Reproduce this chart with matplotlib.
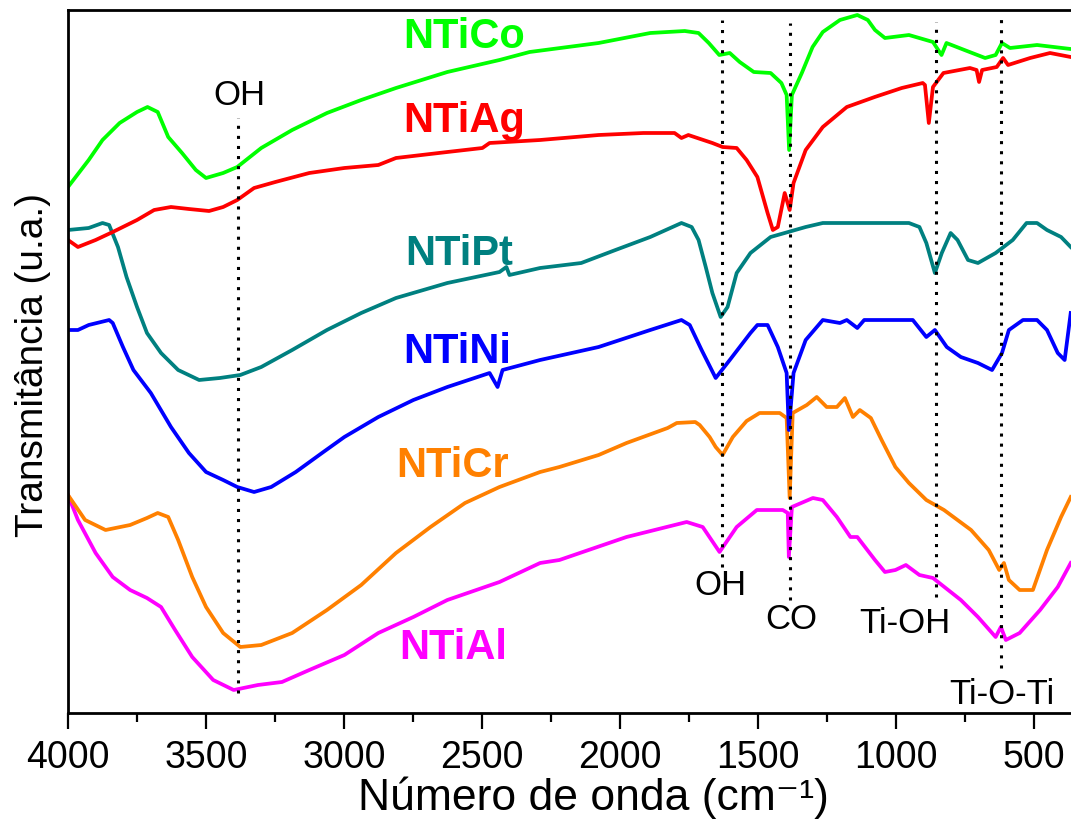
import numpy as np
import matplotlib
matplotlib.use("Agg")
import matplotlib.pyplot as plt
from matplotlib.ticker import MultipleLocator

plt.rcParams['font.family'] = ['Liberation Sans', 'DejaVu Sans']

# ---- data: wavenumber (cm-1) and transmittance (arbitrary, offset units) ----
co_x = [4000, 3925, 3875, 3813, 3750, 3712, 3675, 3637, 3587, 3537, 3500, 3438, 3387,
        3300, 3188, 3062, 2938, 2812, 2626, 2437, 2328, 2078, 1891, 1766, 1716, 1679,
        1641, 1603, 1567, 1516, 1455, 1416, 1397, 1388, 1378, 1342, 1303, 1266, 1204,
        1141, 1103, 1077, 1041, 954, 867, 836, 818, 753, 678, 640, 617, 588, 490, 368]
co_y = [526, 553, 573, 590, 601, 606, 601, 576, 560, 543, 535, 540, 546,
        565, 583, 600, 613, 625, 641, 653, 661, 670, 680, 682, 680, 670,
        658, 660, 651, 641, 640, 630, 618, 563, 618, 640, 666, 681, 693,
        698, 693, 683, 675, 678, 671, 658, 670, 663, 655, 658, 670, 665, 668, 664]

ag_x = [4000, 3964, 3900, 3838, 3750, 3688, 3627, 3562, 3489, 3438, 3387, 3326, 3249,
        3126, 2999, 2876, 2812, 2626, 2499, 2473, 2290, 2078, 1916, 1803, 1778, 1753,
        1666, 1629, 1578, 1542, 1503, 1466, 1447, 1429, 1404, 1386, 1372, 1328, 1266,
        1179, 1078, 980, 904, 896, 882, 867, 829, 733, 709, 700, 689, 636, 613, 595,
        515, 443, 368]
ag_y = [473, 466, 473, 481, 493, 503, 506, 504, 502, 506, 513, 525, 531,
        540, 545, 548, 555, 561, 565, 570, 573, 578, 580, 580, 575, 578,
        570, 566, 565, 553, 536, 500, 483, 486, 520, 503, 530, 563, 586,
        606, 616, 625, 630, 628, 590, 626, 640, 645, 643, 631, 643, 646, 655, 648,
        655, 660, 656]

pt_x = [4000, 3925, 3875, 3851, 3819, 3788, 3750, 3714, 3663, 3601, 3525, 3450, 3376,
        3300, 3188, 3062, 2938, 2812, 2626, 2437, 2412, 2401, 2290, 2141, 2017, 1891,
        1778, 1741, 1716, 1690, 1666, 1636, 1611, 1578, 1528, 1455, 1328, 1266, 954,
        916, 891, 860, 835, 803, 778, 740, 704, 640, 578, 528, 490, 454, 403, 368]
pt_y = [483, 485, 490, 488, 466, 436, 406, 380, 360, 343, 333, 335, 338,
        346, 363, 383, 400, 415, 430, 441, 446, 438, 445, 450, 463, 476,
        490, 486, 473, 446, 420, 396, 406, 440, 460, 476, 486, 490, 490,
        486, 470, 440, 460, 480, 473, 453, 450, 460, 473, 490, 490, 483, 476, 466]

ni_x = [4000, 3964, 3925, 3851, 3838, 3801, 3763, 3700, 3627, 3562, 3500, 3438, 3387,
        3326, 3264, 3175, 3075, 2999, 2876, 2749, 2626, 2473, 2444, 2426, 2290, 2078,
        1891, 1778, 1748, 1705, 1654, 1603, 1528, 1503, 1466, 1429, 1397, 1389, 1372,
        1328, 1266, 1204, 1179, 1141, 1116, 1028, 940, 891, 860, 817, 766, 704, 653,
        617, 592, 541, 490, 454, 415, 390, 368]
ni_y = [383, 383, 388, 393, 390, 366, 343, 320, 286, 260, 241, 233, 226,
        221, 226, 241, 261, 276, 296, 313, 326, 340, 326, 343, 353, 366,
        383, 393, 388, 363, 335, 353, 380, 388, 388, 366, 340, 283, 340,
        373, 393, 390, 393, 385, 393, 393, 393, 376, 383, 366, 356, 350, 343,
        360, 383, 393, 393, 383, 360, 353, 400]

cr_x = [4000, 3938, 3864, 3775, 3714, 3675, 3637, 3601, 3550, 3500, 3438, 3376, 3300,
        3188, 3062, 2938, 2812, 2687, 2562, 2437, 2290, 2220, 2078, 1977, 1828, 1795,
        1728, 1712, 1676, 1654, 1629, 1592, 1542, 1495, 1422, 1397, 1386, 1375, 1324,
        1288, 1252, 1215, 1186, 1157, 1132, 1092, 1053, 1003, 954, 891, 827, 729,
        665, 627, 610, 592, 553, 505, 454, 403, 368]
cr_y = [218, 193, 183, 188, 195, 200, 196, 173, 136, 106, 80, 66, 68,
        80, 103, 128, 160, 186, 210, 226, 241, 246, 258, 270, 285, 290,
        291, 288, 276, 266, 258, 276, 292, 300, 300, 295, 215, 300, 308,
        316, 306, 306, 315, 296, 303, 295, 273, 246, 230, 213, 203, 183,
        163, 143, 150, 133, 123, 123, 163, 196, 216]

al_x = [4000, 3964, 3900, 3838, 3775, 3714, 3663, 3612, 3550, 3474, 3400, 3312, 3225,
        3126, 2999, 2876, 2749, 2626, 2437, 2290, 2220, 1977, 1759, 1701, 1640, 1578,
        1505, 1411, 1393, 1389, 1378, 1302, 1266, 1215, 1166, 1141, 1077, 1041, 1003,
        965, 916, 867, 766, 704, 640, 621, 603, 553, 479, 415, 368]
al_y = [218, 193, 160, 136, 123, 115, 106, 83, 56, 33, 23, 28, 31,
        43, 58, 80, 96, 113, 131, 150, 153, 176, 191, 186, 161, 186,
        203, 203, 200, 156, 206, 215, 213, 196, 176, 176, 153, 141, 143,
        148, 138, 135, 113, 96, 76, 86, 73, 80, 103, 126, 150]

series = [
    ("NTiAl", al_x, al_y, "#ff00ff"),
    ("NTiCr", cr_x, cr_y, "#ff8000"),
    ("NTiNi", ni_x, ni_y, "#0000ff"),
    ("NTiPt", pt_x, pt_y, "#008080"),
    ("NTiAg", ag_x, ag_y, "#ff0000"),
    ("NTiCo", co_x, co_y, "#00ff00"),
]

# series label anchors (left, baseline) in data units
label_pos = {"NTiCo": (2786, 665), "NTiAg": (2786, 581), "NTiPt": (2780, 448),
             "NTiNi": (2786, 350), "NTiCr": (2811, 236), "NTiAl": (2800, 54)}

# band assignments: wavenumber, line extent, label
peak_x = [3384, 1630, 1384, 856, 620]
peak_ymin = [20, 146, 113, 116, 45]
peak_ymax = [595, 693, 690, 691, 700]
peak_labels = ["OH", "OH", "CO", "Ti-OH", "Ti-O-Ti"]
peak_label_x = [3378, 1637, 1382, 969, 618]
peak_label_y = [608, 118, 84, 80, 9]

fig = plt.figure(figsize=(10.71, 8.21), dpi=100)
ax = fig.add_axes([68 / 1071, 108 / 821, 1 - 68 / 1071, 703 / 821])

for name, x, y, c in series:
    ax.plot(x, y, color=c, lw=2.7, solid_joinstyle='round', zorder=2)

ax.vlines(peak_x, peak_ymin, peak_ymax, colors='black', lw=2.2,
          linestyles=[(0, (1.0, 2.3))], zorder=3)

for name, x, y, c in series:
    lx, ly = label_pos[name]
    ax.text(lx, ly, name, color=c, fontsize=30, fontweight='bold',
            ha='left', va='baseline')

for lbl, lx, ly in zip(peak_labels, peak_label_x, peak_label_y):
    ax.text(lx, ly, lbl, fontsize=25, ha='center', va='baseline', color='black')

ax.set_xlim(4000, 367)
ax.set_ylim(0, 703)
ax.xaxis.set_major_locator(MultipleLocator(500))
ax.xaxis.set_minor_locator(MultipleLocator(250))
ax.set_yticks([])
ax.tick_params(axis='x', which='major', direction='out', length=11.5, width=1.6,
               labelsize=27, pad=8)
ax.tick_params(axis='x', which='minor', direction='out', length=6.5, width=1.6)
for s in ['left', 'bottom', 'top']:
    ax.spines[s].set_linewidth(2.0)
ax.spines['right'].set_visible(False)

ax.set_xlabel('Número de onda (cm\u207b\u00b9)', fontsize=32)
ax.xaxis.set_label_coords((593 - 68) / 1003, (713 - 776) / 703)
ax.set_ylabel('Transmitância (u.a.)', fontsize=28)
ax.yaxis.set_label_coords((51 - 68) / 1003, (713 - 365) / 703)

fig.savefig('out.png', dpi=100)
